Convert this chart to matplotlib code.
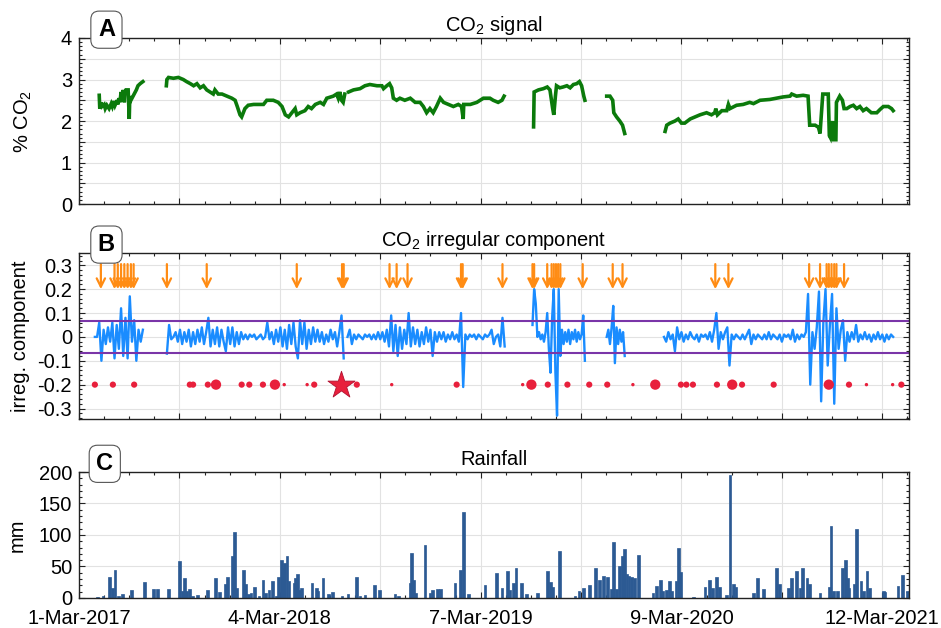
import numpy as np
import pandas as pd
import matplotlib
matplotlib.use("Agg")
import matplotlib.pyplot as plt
from matplotlib.ticker import MultipleLocator, FixedLocator, FuncFormatter

plt.rcParams['font.family'] = ['Liberation Sans', 'DejaVu Sans']
plt.rcParams['mathtext.fontset'] = 'custom'
plt.rcParams['mathtext.rm'] = 'Liberation Sans'
plt.rcParams['mathtext.it'] = 'Liberation Sans:italic'
plt.rcParams['mathtext.bf'] = 'Liberation Sans:bold'

# all x values are days since 1-Mar-2017
start = pd.Timestamp('2017-03-01')
x_last = 1521

# --- panel A: CO2 signal (%), one list pair per recorded segment
co2_d1 = [37, 38, 40, 42, 46, 48, 51, 55, 59, 61, 64, 66, 70, 71, 73, 75, 77, 79, 81, 83,
          84, 86, 90, 92, 93, 95, 99, 105, 108, 112, 114, 117]
co2_v1 = [2.62, 2.3, 2.45, 2.35, 2.4, 2.3, 2.38, 2.3, 2.42, 2.35, 2.48, 2.38, 2.5, 2.4, 2.55,
          2.45, 2.7, 2.5, 2.75, 2.45, 2.7, 2.75, 2.75, 2.05, 2.6, 2.5, 2.6, 2.75, 2.85, 2.9,
          2.92, 2.95]
co2_d2 = [160, 161, 164, 173, 182, 191, 197, 204, 210, 216, 222, 228, 234, 240, 246, 249, 255,
          262, 271, 280, 286, 290, 295, 298, 304, 310, 320, 338, 344, 356, 365, 372, 378, 384,
          390, 396, 399, 405, 414, 420, 426, 433, 442, 448, 454, 466, 472, 475, 478, 481, 484, 487]
co2_v2 = [2.85, 3.0, 3.05, 3.03, 3.05, 3.0, 2.95, 2.9, 2.85, 2.9, 2.8, 2.85, 2.75, 2.7, 2.65,
          2.75, 2.65, 2.65, 2.6, 2.55, 2.5, 2.35, 2.15, 2.1, 2.3, 2.38, 2.4, 2.4, 2.5, 2.5, 2.45,
          2.35, 2.15, 2.1, 2.2, 2.3, 2.15, 2.2, 2.25, 2.35, 2.3, 2.4, 2.45, 2.4, 2.55, 2.6, 2.65,
          2.55, 2.7, 2.5, 2.45, 2.65]
co2_d3 = [494, 503, 515, 524, 533, 546, 555, 558, 564, 569, 573, 576, 582, 588, 597, 607, 616,
          625, 631, 637, 643, 649, 655, 662, 668, 677, 686, 695, 701, 704, 705, 717, 729, 735,
          741, 753, 759, 768, 775, 779]
co2_v3 = [2.7, 2.75, 2.78, 2.85, 2.88, 2.85, 2.85, 2.78, 2.85, 2.9, 2.8, 2.55, 2.5, 2.55, 2.5,
          2.55, 2.45, 2.45, 2.35, 2.2, 2.3, 2.2, 2.35, 2.55, 2.45, 2.4, 2.35, 2.4, 2.35, 2.05,
          2.4, 2.4, 2.45, 2.5, 2.55, 2.55, 2.5, 2.45, 2.5, 2.6]
co2_d4 = [833, 834, 842, 851, 858, 863, 868, 870, 873, 875, 881, 887, 894, 900, 906, 912, 917,
          921, 925, 927]
co2_v4 = [1.86, 2.7, 2.75, 2.78, 2.82, 2.75, 2.3, 2.15, 2.6, 2.85, 2.8, 2.82, 2.85, 2.8, 2.88,
          2.9, 2.95, 2.85, 2.6, 2.5]
co2_d5 = [967, 973, 978, 980, 985, 991, 996, 1000]
co2_v5 = [2.6, 2.6, 2.5, 2.2, 2.1, 2.0, 1.9, 1.7]
co2_d6 = [1074, 1077, 1083, 1092, 1098, 1104, 1110, 1120, 1129, 1138, 1150, 1159, 1165, 1167,
          1170, 1178, 1187, 1190, 1193, 1205, 1217, 1229, 1236, 1248, 1266, 1278, 1290, 1303,
          1306, 1315, 1327, 1336, 1339, 1349, 1355, 1358, 1359, 1363, 1370, 1373, 1375, 1377,
          1381, 1383, 1387, 1388, 1394, 1399, 1402, 1407, 1413, 1419, 1425, 1431, 1437, 1443,
          1452, 1462, 1468, 1474, 1483, 1489, 1492]
co2_v6 = [1.75, 1.9, 1.95, 2.0, 2.05, 1.95, 1.95, 2.05, 2.1, 2.15, 2.2, 2.15, 2.2, 2.3, 2.15,
          2.25, 2.25, 2.4, 2.3, 2.38, 2.4, 2.45, 2.42, 2.5, 2.52, 2.55, 2.58, 2.6, 2.65, 2.6,
          2.62, 2.6, 1.9, 1.9, 1.85, 1.7, 1.9, 2.65, 2.65, 2.65, 1.65, 1.6, 2.0, 1.55, 1.55,
          2.45, 2.6, 2.5, 2.3, 2.3, 2.35, 2.38, 2.3, 2.35, 2.25, 2.3, 2.2, 2.2, 2.28, 2.35,
          2.35, 2.3, 2.25]

# --- panel B: irregular component, regularly sampled segments (first day, step in days)
irr_start = [29, 161, 492, 831, 967, 1072]
irr_step = [4, 4, 4, 3, 3, 4]
irr_1 = [0.0, 0.0, 0.06, -0.1, 0.03, -0.03, 0.04, -0.02, 0.06, -0.09, 0.05, -0.05, 0.12,
         -0.08, 0.08, -0.09, 0.17, -0.02, 0.07, -0.1, 0.03, -0.02, 0.03]
irr_2 = [-0.07, 0.05, -0.01, 0.0, 0.02, -0.02, 0.03, -0.03, 0.02, -0.02,
         0.03, -0.04, 0.02, -0.03, 0.03, -0.02, 0.04, -0.03, 0.02, 0.08,
         -0.04, 0.03, -0.03, 0.04, -0.04, 0.03, -0.02, -0.06, 0.04, -0.03,
         0.04, -0.04, 0.02, -0.03, 0.02, -0.01, 0.01, -0.01, 0.01, 0.0,
         0.01, -0.01, 0.0, 0.01, -0.01, 0.0, 0.06, -0.01, 0.02, -0.03,
         0.03, -0.02, 0.04, -0.04, 0.03, -0.05, 0.05, -0.03, 0.06, -0.04,
         -0.09, 0.07, -0.03, 0.06, -0.05, 0.03, -0.03, 0.04, -0.02, 0.03,
         -0.02, 0.02, -0.03, 0.01, -0.02, 0.03, -0.01, 0.02, -0.04, 0.02,
         0.09, -0.09]
irr_3 = [0.0, 0.03, -0.03, 0.01, -0.01, 0.01, 0.0, -0.01, 0.01, 0.0,
         0.01, -0.01, 0.01, -0.01, 0.02, -0.01, 0.02, -0.02, 0.03, -0.04,
         0.09, -0.06, 0.05, -0.08, 0.04, -0.05, 0.03, -0.03, 0.1, -0.04,
         0.04, -0.03, 0.03, -0.04, 0.02, -0.03, 0.04, -0.02, 0.03, -0.08,
         0.02, -0.02, 0.02, -0.01, 0.02, -0.02, 0.01, -0.01, 0.02, -0.01,
         0.01, -0.02, 0.1, -0.21, 0.01, -0.01, 0.01, 0.0, 0.01, -0.01,
         0.01, 0.0, -0.01, 0.01, 0.0, 0.01, 0.03, -0.03, 0.0, 0.01,
         -0.04, 0.08, -0.04]
irr_4 = [0.05, 0.2, 0.14, 0.0, 0.02, -0.01, 0.01, -0.02, 0.02, 0.1,
         -0.05, -0.15, 0.08, 0.2, -0.15, -0.33, 0.2, -0.08, 0.03, -0.03,
         0.02, -0.02, 0.03, -0.03, 0.02, -0.01, 0.03, -0.02, 0.02, -0.01,
         0.01, 0.09, -0.1]
irr_5 = [0.0, 0.03, -0.03, 0.04, 0.13, -0.11, 0.04, -0.03, 0.03, -0.02, 0.02, -0.08]
irr_6 = [0.0, -0.02, 0.02, -0.01, 0.01, -0.06, 0.04, -0.01, 0.02, -0.02,
         0.01, -0.01, 0.02, 0.0, -0.01, 0.01, -0.02, 0.01, 0.0, 0.01,
         -0.01, 0.02, -0.02, 0.03, 0.1, -0.05, 0.02, -0.01, 0.02, 0.04,
         -0.12, 0.01, -0.01, 0.01, 0.0, -0.01, 0.01, -0.01, 0.01, 0.03,
         -0.03, 0.01, -0.01, 0.01, 0.0, -0.01, 0.01, -0.01, 0.02, -0.01,
         0.01, 0.0, -0.01, 0.01, -0.02, 0.01, 0.0, 0.01, -0.01, 0.03,
         -0.02, 0.01, -0.01, 0.01, 0.0, 0.02, 0.18, -0.2, 0.02, -0.05,
         0.04, 0.19, -0.27, 0.06, 0.2, -0.12, 0.05, 0.18, -0.28, 0.12,
         -0.05, 0.03, 0.07, -0.1, 0.02, -0.02, 0.02, -0.01, 0.05, -0.02,
         0.01, -0.01, 0.02, -0.01, 0.01, -0.02, 0.01, -0.01, 0.02, -0.01,
         0.01, -0.02, 0.01, -0.01, 0.01, 0.0]
irr_segments = [irr_1, irr_2, irr_3, irr_4, irr_5, irr_6]
irr_limit = 0.068

arrow_days = [40, 65, 71, 77, 83, 89, 95, 100, 161, 234, 399, 482, 485, 569, 582, 602, 700,
              703, 776, 831, 834, 858, 866, 870, 874, 878, 882, 923, 978, 996, 1166, 1190,
              1338, 1358, 1370, 1374, 1379, 1384, 1388, 1402]

event_days = [29, 62, 101, 203, 209, 236, 251, 298, 312, 337, 359, 376, 418, 431, 509, 573,
              692, 813, 829, 859, 895, 935, 968, 1015, 1056, 1103, 1113, 1125, 1169, 1197,
              1215, 1273, 1374, 1411, 1443, 1491, 1507]
event_size = [2, 2, 2, 2, 2, 2, 3, 2, 2, 2, 3, 1, 1, 2, 2, 1,
              2, 1, 3, 2, 2, 2, 2, 1, 3, 2, 2, 2, 2, 3,
              2, 2, 3, 2, 1, 1, 2]
star_day = 480

# --- panel C: rainfall (mm)
rain_days = [34, 44, 56, 61, 66, 72, 79, 96, 120, 136,
             144, 164, 184, 189, 193, 197, 202, 208, 217, 235,
             250, 257, 269, 272, 281, 285, 289, 301, 305, 311,
             315, 322, 330, 337, 342, 348, 354, 362, 366, 371,
             374, 377, 381, 385, 394, 397, 400, 404, 408, 427,
             435, 438, 447, 457, 465, 482, 493, 509, 515, 524,
             541, 550, 579, 585, 607, 609, 613, 617, 634, 643,
             648, 657, 662, 689, 699, 704, 714, 744, 765, 775,
             785, 790, 796, 801, 811, 820, 840, 859, 864, 868,
             880, 909, 916, 924, 936, 946, 954, 961, 969, 976,
             980, 985, 991, 996, 999, 1004, 1008, 1013, 1018, 1025,
             1052, 1058, 1065, 1069, 1076, 1082, 1086, 1094, 1099, 1102,
             1126, 1147, 1156, 1161, 1168, 1174, 1187, 1193, 1199, 1204,
             1236, 1243, 1254, 1278, 1283, 1300, 1306, 1315, 1321, 1326,
             1334, 1339, 1358, 1375, 1378, 1382, 1390, 1399, 1405, 1408,
             1411, 1420, 1425, 1433, 1437, 1444, 1448, 1474, 1477, 1501,
             1509, 1518]
rain_mm = [1, 3, 33, 16, 45, 3, 6, 13, 26, 14,
           15, 14, 58, 11, 31, 11, 15, 3, 4, 12,
           32, 10, 22, 34, 66, 105, 16, 45, 22, 6,
           8, 17, 3, 29, 8, 12, 27, 3, 33, 61,
           47, 56, 66, 27, 24, 31, 38, 13, 16, 24,
           16, 11, 32, 6, 9, 3, 7, 33, 3, 5,
           20, 13, 6, 3, 24, 72, 28, 8, 84, 8,
           12, 15, 15, 23, 44, 136, 6, 20, 39, 16,
           43, 12, 24, 47, 23, 6, 8, 43, 26, 17,
           74, 3, 11, 16, 20, 47, 28, 35, 33, 15,
           89, 15, 51, 67, 78, 38, 35, 33, 32, 69,
           8, 19, 28, 11, 13, 27, 11, 27, 79, 42,
           1, 17, 29, 16, 33, 17, 5, 195, 22, 17,
           8, 32, 15, 47, 22, 16, 31, 43, 16, 47,
           31, 22, 8, 17, 114, 11, 11, 47, 60, 32,
           16, 22, 109, 27, 11, 43, 16, 11, 10, 19,
           37, 11]

tick_dates = pd.date_range(start, periods=9, freq='184D')
tick_days = (tick_dates - start).days
tick_labels = [f"{d.day}-{d.strftime('%b-%Y')}" if i % 2 == 0 else ''
               for i, d in enumerate(tick_dates)]

GREEN = '#0b7a0b'
BLUE = '#1a8cff'
PURPLE = '#7a35a8'
ORANGE = '#ff8c14'
RED = '#e8203c'
RAIN = '#2c5a93'
FS = 14.5


def style_axis(ax, letter, title, labels):
    ax.set_xlim(0, x_last)
    ax.xaxis.set_major_locator(FixedLocator(tick_days))
    ax.xaxis.set_minor_locator(MultipleLocator(46))
    if labels:
        ax.set_xticklabels(tick_labels)
    else:
        ax.set_xticklabels([])
    ax.tick_params(which='both', direction='in', top=True, right=True, labelsize=FS,
                   width=0.8, color='#222222')
    ax.tick_params(which='major', length=4)
    ax.tick_params(which='minor', length=2)
    ax.tick_params(axis='x', pad=8)
    ax.tick_params(axis='y', pad=5)
    ax.grid(True, which='major', color='#e2e2e2', lw=0.8)
    ax.set_axisbelow(True)
    for s in ax.spines.values():
        s.set_color('#222222')
        s.set_linewidth(1.0)
    ax.set_title(title, fontsize=14.5, pad=5)
    ax.text(0.033, 1.05, letter, transform=ax.transAxes, ha='center', va='center',
            fontsize=17, fontweight='bold', zorder=10, clip_on=False,
            bbox=dict(boxstyle='round,pad=0.3,rounding_size=0.35', fc='white',
                      ec='#555555', lw=0.8))


fig = plt.figure(figsize=(9.41, 6.28), dpi=100)
axA = fig.add_axes([0.0840, 0.675, 0.882, 0.2645])
axB = fig.add_axes([0.0840, 0.3328, 0.882, 0.2645])
axC = fig.add_axes([0.0840, 0.0478, 0.882, 0.2006])

# A
for d, v in [(co2_d1, co2_v1), (co2_d2, co2_v2), (co2_d3, co2_v3),
             (co2_d4, co2_v4), (co2_d5, co2_v5), (co2_d6, co2_v6)]:
    axA.plot(d, v, color=GREEN, lw=2.6, solid_joinstyle='miter')
axA.set_ylim(0, 4)
axA.yaxis.set_major_locator(MultipleLocator(0.5))
axA.yaxis.set_minor_locator(MultipleLocator(0.1))
axA.yaxis.set_major_formatter(FuncFormatter(
    lambda v, p: f'{v:.0f}' if abs(v - round(v)) < 1e-6 else ''))
axA.set_ylabel('% CO$_\\mathregular{2}$', fontsize=14.5)
axA.yaxis.set_label_coords(-0.054, 0.5)
style_axis(axA, 'A', 'CO$_\\mathregular{2}$ signal', False)

# B
for s0, st, vals in zip(irr_start, irr_step, irr_segments):
    days = s0 + st * np.arange(len(vals))
    axB.plot(days, vals, color=BLUE, lw=1.7)
axB.axhline(irr_limit, color=PURPLE, lw=1.5)
axB.axhline(-irr_limit, color=PURPLE, lw=1.5)
for d in arrow_days:
    axB.annotate('', xy=(d, 0.2), xytext=(d, 0.305),
                 arrowprops=dict(arrowstyle='->,head_length=0.6,head_width=0.3',
                                 color=ORANGE, lw=1.6, shrinkA=0, shrinkB=0))
sizes = {1: 6, 2: 20, 3: 55}
axB.scatter(event_days, [-0.2] * len(event_days), s=[sizes[k] for k in event_size],
            color=RED, edgecolors='none', zorder=3)
axB.scatter([star_day], [-0.2], s=420, marker='*', color=RED, edgecolors='#b01030',
            linewidths=0.6, zorder=4)
axB.set_ylim(-0.344, 0.352)
axB.yaxis.set_major_locator(MultipleLocator(0.1))
axB.yaxis.set_minor_locator(MultipleLocator(0.02))
axB.yaxis.set_major_formatter(FuncFormatter(lambda v, p: f'{round(v, 2):g}'))
axB.set_ylabel('irreg. component', fontsize=14.5)
axB.yaxis.set_label_coords(-0.059, 0.5)
style_axis(axB, 'B', 'CO$_\\mathregular{2}$ irregular component', False)

# C
axC.bar(rain_days, rain_mm, width=5, color=RAIN, edgecolor=RAIN, lw=0.5)
axC.set_ylim(0, 200)
axC.yaxis.set_major_locator(MultipleLocator(50))
axC.yaxis.set_minor_locator(MultipleLocator(10))
axC.set_ylabel('mm', fontsize=14.5)
axC.yaxis.set_label_coords(-0.063, 0.5)
style_axis(axC, 'C', 'Rainfall', True)
axC.texts[-1].set_position((0.031, 1.065))

fig.savefig('out.png', dpi=100)
